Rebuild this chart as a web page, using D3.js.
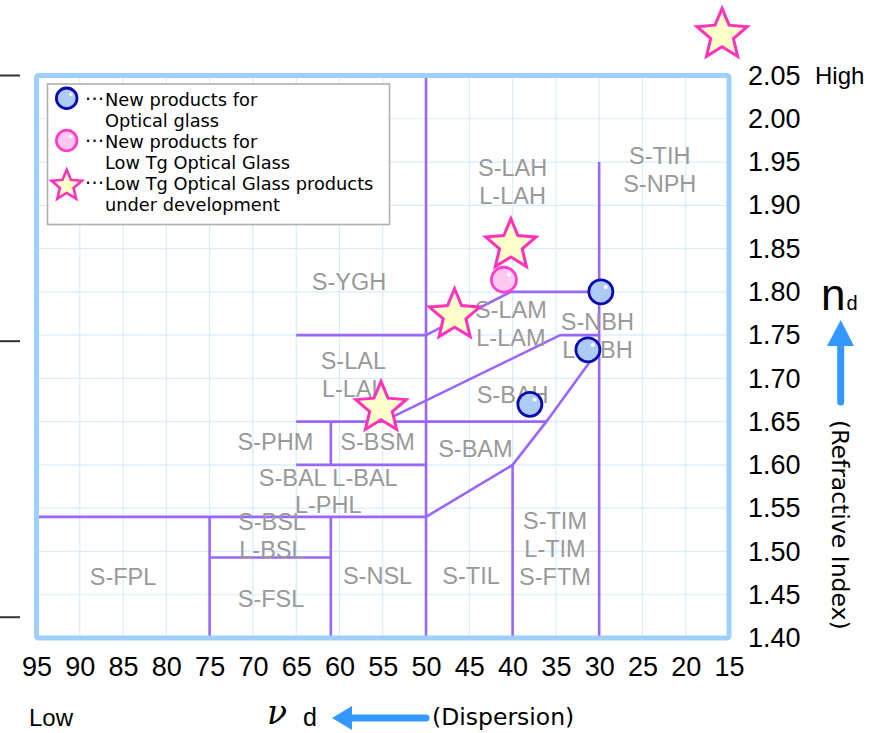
<!DOCTYPE html>
<html>
<head>
<meta charset="utf-8">
<script src="https://cdn.jsdelivr.net/npm/d3@7"></script>
<style>
  body { margin: 0; background: #fff; }
</style>
</head>
<body>
<div id="chart"></div>
<script>
// ---- data (vd = Abbe number, nd = refractive index) ----
const vdTicks = [95, 90, 85, 80, 75, 70, 65, 60, 55, 50, 45, 40, 35, 30, 25, 20, 15];
const ndTicks = [1.40, 1.45, 1.50, 1.55, 1.60, 1.65, 1.70, 1.75, 1.80, 1.85, 1.90, 1.95, 2.00, 2.05];

// region boundaries, each a polyline of [vd, nd]
const boundaries = [
  [[50, 2.05], [50, 1.40]],
  [[30, 1.95], [30, 1.40]],
  [[65, 1.75], [50, 1.75], [40.2, 1.80], [30, 1.80]],
  [[55, 1.65], [34.5, 1.75], [30, 1.75]],
  [[65, 1.65], [36.1, 1.65]],
  [[61, 1.65], [61, 1.60]],
  [[65, 1.60], [50, 1.60]],
  [[95, 1.54], [50, 1.54], [40, 1.60], [36.1, 1.65], [30, 1.734]],
  [[40, 1.60], [40, 1.40]],
  [[75, 1.54], [75, 1.40]],
  [[61, 1.54], [61, 1.40]],
  [[75, 1.493], [61, 1.493]]
];

const regionLabels = [
  {lines: ["S-LAH", "L-LAH"], vd: 40.0, nd: 1.928},
  {lines: ["S-TIH", "S-NPH"], vd: 23.0, nd: 1.941},
  {lines: ["S-YGH"], vd: 58.9, nd: 1.812},
  {lines: ["S-LAM", "L-LAM"], vd: 40.2, nd: 1.763},
  {lines: ["S-NBH", "L-NBH"], vd: 30.2, nd: 1.750},
  {lines: ["S-LAL", "L-LAL"], vd: 58.4, nd: 1.704},
  {lines: ["S-BAH"], vd: 40.0, nd: 1.681},
  {lines: ["S-PHM"], vd: 67.4, nd: 1.627},
  {lines: ["S-BSM"], vd: 55.6, nd: 1.627},
  {lines: ["S-BAM"], vd: 44.3, nd: 1.619},
  {lines: ["S-BAL L-BAL"], vd: 61.3, nd: 1.586},
  {lines: ["L-PHL"], vd: 61.3, nd: 1.554},
  {lines: ["S-BSL", "L-BSL"], vd: 67.8, nd: 1.518},
  {lines: ["S-FPL"], vd: 85.0, nd: 1.471},
  {lines: ["S-FSL"], vd: 67.9, nd: 1.446},
  {lines: ["S-NSL"], vd: 55.6, nd: 1.472},
  {lines: ["S-TIL"], vd: 44.8, nd: 1.472},
  {lines: ["S-TIM", "L-TIM", "S-FTM"], vd: 35.1, nd: 1.504}
];

const newOptical = [{vd: 29.8, nd: 1.800}, {vd: 31.3, nd: 1.733}, {vd: 38.0, nd: 1.670}];
const newLowTg = [{vd: 41.0, nd: 1.814}];
const devLowTg = [{vd: 40.2, nd: 1.854}, {vd: 46.7, nd: 1.773}, {vd: 55.2, nd: 1.666}, {vd: 15.8, nd: 2.097}];

const legendItems = [
  {type: "optical", lines: ["New products for", "Optical glass"]},
  {type: "lowtg", lines: ["New products for", "Low Tg Optical Glass"]},
  {type: "dev", lines: ["Low Tg Optical Glass products", "under development"]}
];

const leftMarks = [2.05, 1.743, 1.424];

// ---- layout ----
const W = 876, H = 733;
const margin = {top: 75.5, left: 36.5, right: 147, bottom: 95};
const width = W - margin.left - margin.right;
const height = H - margin.top - margin.bottom;

const purple = "#9966ff";
const gridColor = "#d6edff";
const frameColor = "#9dcfff";
const arrowBlue = "#3399ff";

const svg = d3.select("#chart").append("svg")
  .attr("width", W)
  .attr("height", H)
  .style("font-family", "'Liberation Sans', Arial, sans-serif");

const x = d3.scaleLinear().domain([95, 15]).range([margin.left, margin.left + width]);
const y = d3.scaleLinear().domain([1.40, 2.05]).range([margin.top + height, margin.top]);

// grid
svg.append("g").attr("class", "gridX")
  .selectAll("line").data(vdTicks.slice(1, -1)).join("line")
  .attr("x1", d => x(d)).attr("x2", d => x(d))
  .attr("y1", y(2.05)).attr("y2", y(1.40))
  .attr("stroke", gridColor).attr("stroke-width", 1.2);

svg.append("g").attr("class", "gridY")
  .selectAll("line").data(ndTicks.slice(1, -1)).join("line")
  .attr("y1", d => y(d)).attr("y2", d => y(d))
  .attr("x1", x(95)).attr("x2", x(15))
  .attr("stroke", gridColor).attr("stroke-width", 1.2);

// region boundaries
const line = d3.line().x(d => x(d[0])).y(d => y(d[1]));
svg.append("g").attr("class", "boundaries")
  .selectAll("path").data(boundaries).join("path")
  .attr("d", line)
  .attr("fill", "none")
  .attr("stroke", purple)
  .attr("stroke-width", 2.6)
  .attr("stroke-linejoin", "round");

// frame
svg.append("rect")
  .attr("x", x(95)).attr("y", y(2.05))
  .attr("width", x(15) - x(95)).attr("height", y(1.40) - y(2.05))
  .attr("rx", 2)
  .attr("fill", "none")
  .attr("stroke", frameColor)
  .attr("stroke-width", 5);

// region labels
const lineGap = 28;
const labelG = svg.append("g").attr("class", "regionLabels")
  .selectAll("text").data(regionLabels).join("text")
  .attr("text-anchor", "middle")
  .style("font-size", "23.5px")
  .style("fill", "#999999");
labelG.each(function(d) {
  const t = d3.select(this);
  const y0 = y(d.nd) - (d.lines.length - 1) * lineGap / 2 + 8.5;
  d.lines.forEach((s, i) => {
    t.append("tspan").attr("x", x(d.vd)).attr("y", y0 + i * lineGap).text(s);
  });
});

// markers
function starPath(R, r) {
  const pts = [];
  for (let i = 0; i < 10; i++) {
    const a = i * Math.PI / 5;
    const rad = i % 2 ? r : R;
    pts.push([Math.sin(a) * rad, -Math.cos(a) * rad]);
  }
  return d3.line().curve(d3.curveLinearClosed)(pts);
}

function drawCircle(sel, r, fill, stroke) {
  sel.append("circle").attr("r", r).attr("fill", fill)
    .attr("stroke", stroke).attr("stroke-width", 2.8);
  sel.append("circle").attr("cx", r * 0.4).attr("cy", -r * 0.4).attr("r", r * 0.17)
    .attr("fill", "#ffffff");
}

function drawStar(sel, R) {
  sel.append("path").attr("d", starPath(R, R * 0.45))
    .attr("fill", "#ffffcc")
    .attr("stroke", "#ff33bb")
    .attr("stroke-width", R > 20 ? 3 : 2.6);
}

svg.append("g").selectAll("g").data(newOptical).join("g")
  .attr("transform", d => "translate(" + x(d.vd) + "," + y(d.nd) + ")")
  .call(g => drawCircle(g, 12, "#aecbf5", "#0a0ab0"));

svg.append("g").selectAll("g").data(newLowTg).join("g")
  .attr("transform", d => "translate(" + x(d.vd) + "," + y(d.nd) + ")")
  .call(g => drawCircle(g, 12.5, "#ffc8f2", "#ff40cc"));

svg.append("g").selectAll("g").data(devLowTg).join("g")
  .attr("transform", d => "translate(" + x(d.vd) + "," + y(d.nd) + ")")
  .call(g => drawStar(g, 26.5));

// legend
const legend = svg.append("g").attr("class", "legend");
legend.append("rect")
  .attr("x", 47.5).attr("y", 84)
  .attr("width", 342).attr("height", 140.5)
  .attr("fill", "#ffffff")
  .attr("stroke", "#b0b0b0")
  .attr("stroke-width", 1.6);

const legendRow = 42.2;
legendItems.forEach((item, i) => {
  const base = 105.7 + i * legendRow;
  const m = legend.append("g").attr("transform", "translate(66.7," + (base - 7.4 + (item.type === "dev" ? 3 : 0)) + ")");
  if (item.type === "optical") drawCircle(m, 10.3, "#aecbf5", "#0a0ab0");
  if (item.type === "lowtg") drawCircle(m, 10.3, "#ffc8f2", "#ff40cc");
  if (item.type === "dev") drawStar(m, 16);
  legend.append("text")
    .attr("x", 85).attr("y", base)
    .attr("textLength", 19)
    .style("font-family", "'DejaVu Sans', sans-serif")
    .style("font-size", "19px")
    .text("\u00b7\u00b7\u00b7");
  item.lines.forEach((s, j) => {
    legend.append("text")
      .attr("x", 105).attr("y", base + j * 21)
      .style("font-family", "'DejaVu Sans', sans-serif")
      .style("font-size", "17.8px")
      .style("fill", "#000")
      .text(s);
  });
});

// axes (labels only)
const xAxis = svg.append("g")
  .attr("class", "xAxisG")
  .attr("transform", "translate(0," + y(1.40) + ")")
  .call(d3.axisBottom(x).tickValues(vdTicks).tickSize(0).tickPadding(19).tickFormat(d3.format("d")));
xAxis.select(".domain").remove();
xAxis.selectAll("text").style("font-size", "27px").style("fill", "#000")
  .style("font-family", "'Liberation Sans', Arial, sans-serif");

const yAxis = svg.append("g")
  .attr("class", "yAxisG")
  .attr("transform", "translate(" + x(15) + ",0)")
  .call(d3.axisRight(y).tickValues(ndTicks).tickSize(0).tickPadding(19).tickFormat(d3.format(".2f")));
yAxis.select(".domain").remove();
yAxis.selectAll("text").style("font-size", "27px").style("fill", "#000")
  .style("font-family", "'Liberation Sans', Arial, sans-serif");

// left side marks
svg.append("g").selectAll("line").data(leftMarks).join("line")
  .attr("x1", 0).attr("x2", 20)
  .attr("y1", d => y(d)).attr("y2", d => y(d))
  .attr("stroke", "#333").attr("stroke-width", 2);

// annotations
svg.append("text").attr("x", 815).attr("y", y(2.05) + 8.5)
  .style("font-size", "24px").text("High");
svg.append("text").attr("x", 29).attr("y", 726)
  .style("font-size", "24px").text("Low");

// nd with up arrow
svg.append("text").attr("x", 821).attr("y", 310)
  .style("font-size", "44px").text("n");
svg.append("text").attr("x", 846.5).attr("y", 309.5)
  .style("font-size", "20px").text("d");
svg.append("line")
  .attr("x1", 840.7).attr("x2", 840.7).attr("y1", 402).attr("y2", 342)
  .attr("stroke", arrowBlue).attr("stroke-width", 7).attr("stroke-linecap", "round");
svg.append("path")
  .attr("d", "M827,346 L854,346 L840.7,320 Z")
  .attr("fill", arrowBlue);
svg.append("text")
  .attr("transform", "translate(832,420) rotate(90)")
  .style("font-family", "'DejaVu Sans', sans-serif")
  .style("font-size", "23.5px").text("(Refractive Index)");

// vd with left arrow
svg.append("text").attr("x", 267).attr("y", 724)
  .style("font-family", "'DejaVu Serif', serif")
  .style("font-style", "italic")
  .style("font-size", "33px").text("\u03bd");
svg.append("text").attr("x", 303).attr("y", 726)
  .style("font-size", "25px").text("d");
svg.append("line")
  .attr("x1", 426).attr("x2", 348).attr("y1", 718).attr("y2", 718)
  .attr("stroke", arrowBlue).attr("stroke-width", 7).attr("stroke-linecap", "round");
svg.append("path")
  .attr("d", "M352,706 L352,730 L332,718 Z")
  .attr("fill", arrowBlue);
svg.append("text").attr("x", 432).attr("y", 725)
  .style("font-family", "'DejaVu Sans', sans-serif")
  .style("font-size", "23.5px").text("(Dispersion)");
</script>
</body>
</html>
